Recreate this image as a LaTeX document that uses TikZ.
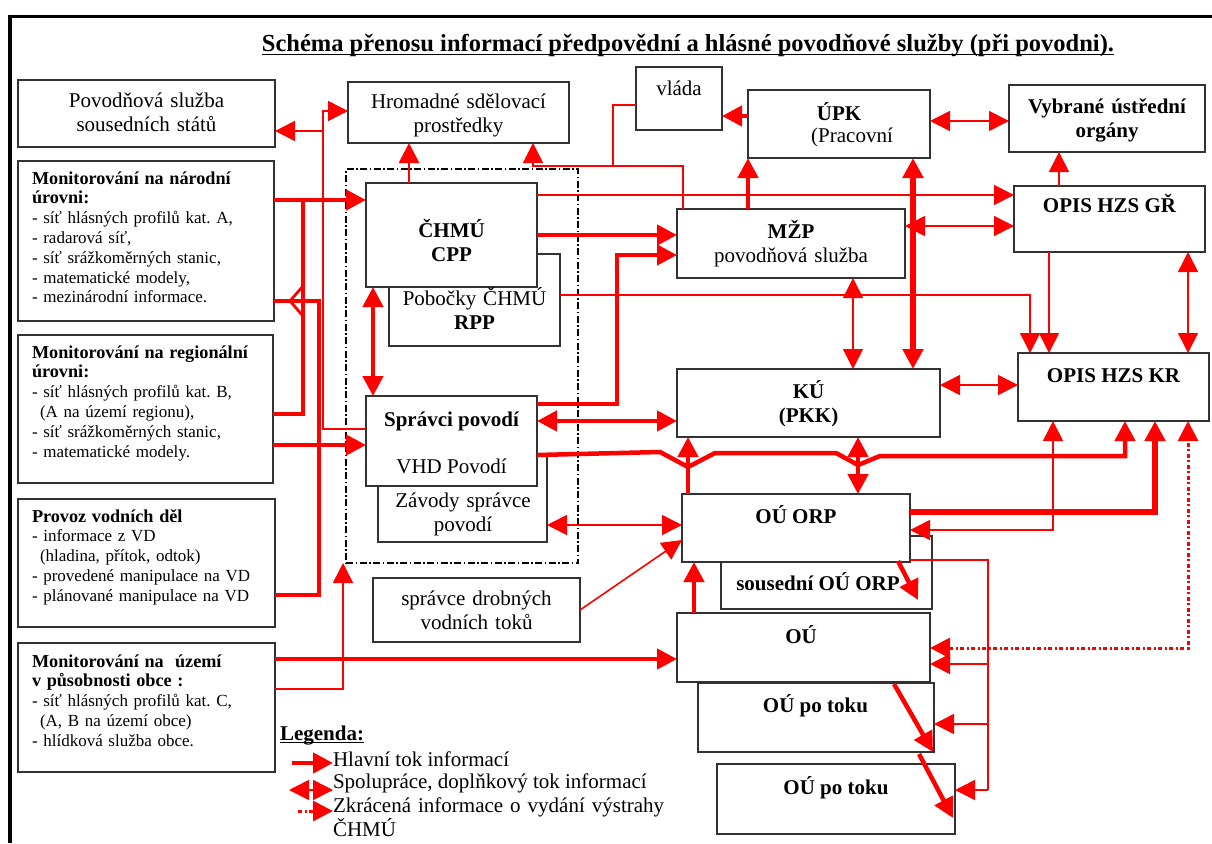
\documentclass[tikz,border=0pt]{standalone}
\usepackage{fontspec}
\setmainfont{Liberation Serif}
\usetikzlibrary{arrows.meta}
\definecolor{rd}{RGB}{255,0,0}
\definecolor{bxc}{RGB}{50,50,50}
\newcommand\ftB{\fontsize{21}{24.5}\selectfont}
\newcommand\ftM{\fontsize{17}{19.8}\selectfont}
\newcommand\mbf[1]{{\fontsize{18.2}{19.8}\selectfont\bfseries #1}}
\newcommand\ftT{\fontsize{24.5}{28}\selectfont\bfseries}
\newcommand\mkbox[5]{\node[boxs, minimum width={#4-#2}, minimum height={#5-#3}] (#1) at ({(#2+#4)/2},{(#3+#5)/2}) {};}
\tikzset{
 boxs/.style={draw=bxc, line width=1.6pt, fill=white, inner sep=0pt, outer sep=0pt},
 frm/.style={draw=black, line width=1.8pt, inner sep=0pt, outer sep=0pt, dash pattern=on 7pt off 2.5pt on 1.5pt off 2.5pt},
 tl/.style={inner sep=0pt, outer sep=0pt, font=\ftB, anchor=base},
 tlc/.style={tl, text width=240pt, align=center},
 ml/.style={inner sep=0pt, outer sep=0pt, font=\ftM, anchor=base west, text width=245pt, align=left},
 thn/.style={draw=rd, line width=1.6pt},
 thk/.style={draw=rd, line width=4.5pt},
 vthk/.style={draw=rd, line width=6.3pt},
 mdl/.style={draw=rd, line width=2.8pt},
 dtl/.style={draw=rd, line width=3pt, dash pattern=on 4pt off 2.5pt on 2pt off 2.5pt},
 >={Triangle[length=20pt,width=20pt]},
}
\begin{document}
\begin{tikzpicture}[x=1pt,y=-1pt]
\useasboundingbox (0,0) rectangle (1212,843);
\fill[white] (0,0) rectangle (1212,843);
\draw[line width=3.5pt] (8,16.5) -- (1212,16.5);
\draw[line width=4pt] (10,15) -- (10,843);

% title
\node[inner sep=0pt, outer sep=0pt, anchor=base, font=\ftT] (title) at (688,52) {Schéma přenosu informací předpovědní a hlásné povodňové služby (při povodni).};
\draw[line width=1.4pt] ([yshift=-2.5pt]title.base west) -- ([yshift=-2.5pt]title.base east);

% dashed frame
\node[frm, minimum width=232, minimum height=394] (frame) at (462,366) {};

% boxes
\mkbox{povsous}{18}{80}{275}{147}
\mkbox{narod}{18}{161}{274}{321}
\mkbox{region}{18}{335}{273}{483}
\mkbox{provoz}{18}{499}{275}{627}
\mkbox{obce}{18}{643}{275}{772}
\mkbox{hrom}{348}{82}{569}{143}
\mkbox{vlada}{636}{67}{722}{130}
\mkbox{upk}{748}{90}{930}{158}
\mkbox{vybr}{1009}{85}{1205}{152}
\mkbox{gr}{1014}{186}{1205}{252}
\mkbox{mzp}{677}{209}{905}{278}
\mkbox{pob}{389}{254}{560}{346}
\mkbox{chmu}{366}{183}{537}{287}
\mkbox{zav}{378}{455}{547}{542}
\mkbox{spr}{366}{396}{537}{486}
\mkbox{drob}{373}{578}{580}{642}
\mkbox{ku}{677}{369}{940}{437}
\mkbox{kr}{1018}{353}{1209}{421}
\mkbox{sous}{721}{536}{932}{609}
\mkbox{orp}{682}{494}{910}{562}
\mkbox{ou}{677}{613}{930}{682}
\mkbox{ptA}{698}{683}{934}{752}
\mkbox{ptB}{717}{764}{955}{834}

% texts
\node[tlc] (t-povsous) at (146.5,107) {Povodňová služba\\sousedních států};
\node[tlc] (t-hrom) at (458.5,108) {Hromadné sdělovací\\prostředky};
\node[tl] (t-vlada) at (679,95) {vláda};
\node[tl] (t-upk1) at (839,120) {\bfseries ÚPK};
\node[tl] (t-upk2) at (852,142) {(Pracovní};
\node[tlc] (t-vybr) at (1107,113) {\bfseries Vybrané ústřední\\orgány};
\node[tl] (t-gr) at (1109.5,212) {\bfseries OPIS HZS GŘ};
\node[tlc] (t-mzp) at (791,238) {\textbf{MŽP}\\povodňová služba};
\node[tlc] (t-chmu) at (451.5,237) {\bfseries ČHMÚ\\CPP};
\node[tlc] (t-pob) at (474.5,305) {Pobočky ČHMÚ\\\textbf{RPP}};
\node[tl] (t-spr1) at (451.5,426) {\bfseries Správci povodí};
\node[tl] (t-spr2) at (451.5,473) {VHD Povodí};
\node[tlc] (t-zav) at (463,507) {Závody správce\\povodí};
\node[tlc] (t-drob) at (476.5,605) {správce drobných\\vodních toků};
\node[tlc] (t-ku) at (808.5,398) {\bfseries KÚ\\(PKK)};
\node[tl] (t-kr) at (1113.5,382) {\bfseries OPIS HZS KR};
\node[tl] (t-orp) at (796,523) {\bfseries OÚ ORP};
\node[tl] (t-sous) at (818,590) {\bfseries sousední OÚ ORP};
\node[tl] (t-ou) at (801,643) {\bfseries OÚ};
\node[tl] (t-ptA) at (815.5,712) {\bfseries OÚ po toku};
\node[tl] (t-ptB) at (836,794) {\bfseries OÚ po toku};

\node[ml] (t-narod) at (32,184) {\mbf{Monitorování na národní}\\\mbf{úrovni:}\\- síť hlásných profilů kat.\ A,\\- radarová síť,\\- síť srážkoměrných stanic,\\- matematické modely,\\- mezinárodní informace.};
\node[ml] (t-region) at (32,358) {\mbf{Monitorování na regionální}\\\mbf{úrovni:}\\- síť hlásných profilů kat.\ B,\\\hspace*{8pt}(A na území regionu),\\- síť srážkoměrných stanic,\\- matematické modely.};
\node[ml] (t-provoz) at (32,522) {\mbf{Provoz vodních děl}\\- informace z VD\\\hspace*{8pt}(hladina, přítok, odtok)\\- provedené manipulace na VD\\- plánované manipulace na VD};
\node[ml] (t-obce) at (32,667) {\mbf{Monitorování na\ \ území}\\\mbf{v působnosti obce :}\\- síť hlásných profilů kat.\ C,\\\hspace*{8pt}(A, B na území obce)\\- hlídková služba obce.};

% connectors
% A
\draw[thn,->] (spr.west |- 0,429) -| (323,111) -- (hrom.west |- 0,111);
\coordinate (jA) at (323,131);
\draw[thn,->] (jA) -- (povsous.east |- jA);
% B
\draw[mdl,->] (chmu.north -| 409,0) -- (hrom.south -| 409,0);
% C
\draw[thn,->] (mzp.north -| 683,0) |- (533,166) -- (hrom.south -| 533,0);
\draw[thn] (vlada.west |- 0,105) -| (613,166);
% D
\draw[thn,->] (chmu.east |- 0,195) -- (gr.west |- 0,195);
% E
\draw[thk,->] (chmu.east |- 0,235) -- (mzp.west |- 0,235);
% F
\draw[thk,->] (spr.east |- 0,404) -| (617,255) -- (mzp.west |- 0,255);
% G
\draw[thn,->] (pob.east |- 0,295) -| (kr.north -| 1030,0);
% H
\draw[thk,<->] (chmu.south -| 373,0) -- (spr.north -| 373,0);
% I
\draw[thk,->] (narod.east |- 0,200) -- (chmu.west |- 0,200);
\draw[thk] (region.east |- 0,414) -| (303,200);
\draw[thk] (narod.east |- 0,301) -| (319,595) -- (provoz.east |- 0,595);
\draw[mdl] (303,286) -- (290,301) -- (303,316);
\draw[thk,->] (region.east |- 0,445) -- (spr.west |- 0,445);
% J
\draw[thk,->] (obce.east |- 0,659) -- (ou.west |- 0,659);
\draw[thn,->] (obce.east |- 0,689) -| (frame.south -| 343,0);
% K
\draw[thk,<->] (spr.east |- 0,421) -- (ku.west |- 0,421);
% L
\draw[thk,->] (spr.east |- 0,455) -- (660,452) -- (688,467) -- (715,453) -- (836,453) -- (858,465) -- (880,456) -| (kr.south -| 1125,0);
\draw[thk,->] (orp.north -| 688,0) -- (ku.south -| 688,0);
\draw[thk,<->] (ku.south -| 858,0) -- (orp.north -| 858,0);
% M
\draw[vthk,->] (orp.east |- 0,512) -| (kr.south -| 1155,0);
% N
\draw[thn,<->] (orp.east |- 0,530) -| (kr.south -| 1053,0);
% O
\draw[dtl,<->] (ou.east |- 0,648) -| (kr.south -| 1188,0);
% P
\coordinate (pB) at (988,790);
\draw[thn] (orp.east |- 0,560) -| (pB);
\draw[thn,->] (988,664) -- (ou.east |- 0,664);
\draw[thn,->] (988,724) -- (ptA.east |- 0,724);
\draw[thn,->] (pB) -- (ptB.east |- pB);
% Q
\coordinate (q1a) at (898,561); \coordinate (q1b) at (918,600);
\coordinate (q2a) at (894,684); \coordinate (q2b) at (933,752);
\coordinate (q3a) at (919,754); \coordinate (q3b) at (953,818);
\draw[thk,->] (q1a) -- (q1b);
\draw[thk,->] (q2a) -- (q2b);
\draw[thk,->] (q3a) -- (q3b);
% R
\draw[thk,->] (ou.north -| 694,0) -- (orp.south -| 694,0);
% S
\draw[thn,<->] (zav.east |- 0,525) -- (orp.west |- 0,525);
% T
\draw[thn,->] (drob.east |- 0,610) -- (orp.west |- 0,540);
% U
\draw[thn,<->] (mzp.east |- 0,226) -- (gr.west |- 0,226);
% V
\draw[thk,->] (mzp.north -| 748,0) -- (upk.south -| 748,0);
% W
\draw[thk,->] (upk.west |- 0,116) -- (vlada.east |- 0,116);
% X
\draw[vthk,<->] (upk.south -| 913,0) -- (ku.north -| 913,0);
% Y
\draw[thn,<->] (mzp.south -| 853,0) -- (ku.north -| 853,0);
% Z
\draw[thn,<->] (upk.east |- 0,121) -- (vybr.west |- 0,121);
% AA
\draw[thn,->] (gr.north -| 1059,0) -- (vybr.south -| 1059,0);
% AB
\draw[thn,->] (gr.south -| 1049,0) -- (kr.north -| 1049,0);
% AC
\draw[thn,<->] (gr.south -| 1188,0) -- (kr.north -| 1188,0);
% AD
\draw[thn,<->] (ku.east |- 0,385) -- (kr.west |- 0,385);

% legend
\node[inner sep=0pt, outer sep=0pt, anchor=base west, font=\ftB\bfseries] (leg) at (280,740) {Legenda:};
\draw[line width=1.3pt] ([yshift=-2.5pt]leg.base west) -- ([yshift=-2.5pt]leg.base east);
\node[tl, anchor=base west] (leg1) at (333,766) {Hlavní tok informací};
\node[tl, anchor=base west] (leg2) at (333,788) {Spolupráce, doplňkový tok informací};
\node[tl, anchor=base west, text width=380pt, align=left] (leg3) at (333,812) {Zkrácená informace o vydání výstrahy\\ČHMÚ};
\coordinate (lg1a) at (292,763);
\coordinate (lg2a) at (289,790);
\coordinate (lg3a) at (298,811);
\draw[thk,->] (lg1a) -- (leg1.west |- lg1a);
\draw[thn,<->] (lg2a) -- (leg2.west |- lg2a);
\draw[dtl,->] (lg3a) -- (leg3.west |- lg3a);
\end{tikzpicture}
\end{document}
